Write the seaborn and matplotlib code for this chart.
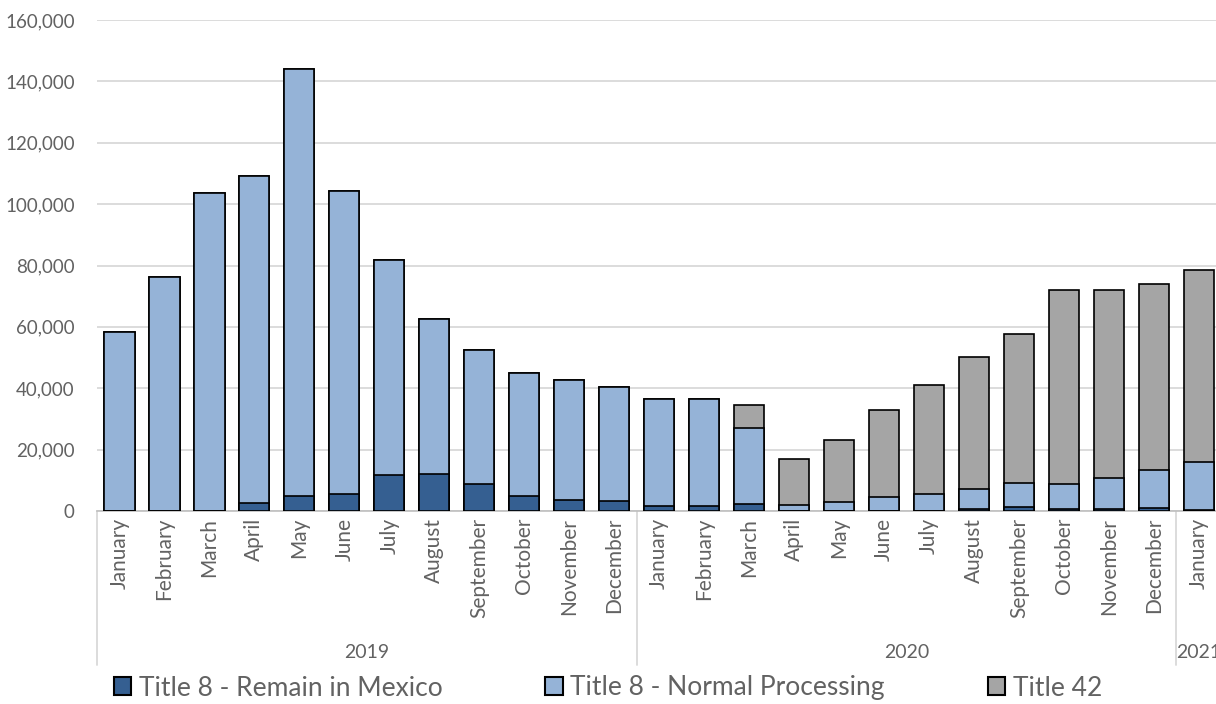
import matplotlib
matplotlib.use("Agg")
import matplotlib.pyplot as plt
import matplotlib.transforms as mtransforms
from matplotlib.patches import Patch
import seaborn as sns
import pandas as pd
import numpy as np

# ---- data ----
months = ["January", "February", "March", "April", "May", "June", "July",
          "August", "September", "October", "November", "December",
          "January", "February", "March", "April", "May", "June", "July",
          "August", "September", "October", "November", "December",
          "January"]
years = ["2019"] * 12 + ["2020"] * 12 + ["2021"]
remain_in_mexico = [0, 0, 100, 2500, 5000, 5600, 11600, 12200, 8800, 4900, 3600, 3200,
                    1700, 1700, 2300, 100, 100, 100, 100, 600, 1200, 500, 600, 1000,
                    300]
normal_processing = [58300, 76400, 103500, 106700, 139000, 98700, 70200, 50400, 43700, 40100, 39100, 37200,
                     34800, 34800, 24700, 2000, 2900, 4300, 5400, 6700, 7900, 8200, 10100, 12400,
                     15600]
title_42 = [0, 0, 0, 0, 0, 0, 0, 0, 0, 0, 0, 0,
            0, 0, 7500, 14900, 20100, 28500, 35500, 42900, 48600, 63300, 61300, 60600,
            62600]
y_ticks = [0, 20000, 40000, 60000, 80000, 100000, 120000, 140000, 160000]
series_labels = ["Title 8 - Remain in Mexico", "Title 8 - Normal Processing", "Title 42"]

c_dark = "#355F91"
c_light = "#95B3D7"
c_gray = "#A5A5A5"
txt = "#626262"

df = pd.DataFrame({
    "key": [f"{y}-{i}" for i, y in enumerate(years)],
    "month": months,
    "year": years,
    "remain": remain_in_mexico,
    "normal": normal_processing,
    "t42": title_42,
})
df["cum_light"] = df["remain"] + df["normal"]
df["total"] = df["cum_light"] + df["t42"]

sns.set_theme(style="white")
plt.rcParams["font.family"] = ["Lato", "DejaVu Sans"]

fig = plt.figure(figsize=(12.16, 7.04), dpi=100)
ax = fig.add_axes([97 / 1216, 1 - 511 / 704, 1 - 97 / 1216, (511 - 20) / 704])

common = dict(x="key", order=list(df["key"]), edgecolor="black", linewidth=1.2,
              width=0.67, saturation=1, ax=ax, zorder=3)
sns.barplot(data=df, y="total", color=c_gray, **common)
sns.barplot(data=df, y="cum_light", color=c_light, **common)
sns.barplot(data=df, y="remain", color=c_dark, **common)

n = len(df)
ax.set_xlim(-0.5, (1216 - 118) / 45.04)
ax.set_ylim(0, 160000)
ax.set_yticks(y_ticks)
ax.set_yticklabels([f"{v:,}" for v in y_ticks], fontsize=13.5, color=txt)
ax.set_xticks(range(n))
ax.set_xticklabels(months, rotation=90, fontsize=15, color=txt,
                   va="top", ha="center")
ax.tick_params(axis="both", length=0)
ax.tick_params(axis="x", pad=5)
ax.tick_params(axis="y", pad=16)
ax.set_xlabel("")
ax.set_ylabel("")
ax.yaxis.grid(True, color="#D9D9D9", linewidth=1.3, zorder=0)
ax.set_axisbelow(True)
for s in ["left", "right", "top"]:
    ax.spines[s].set_visible(False)
ax.spines["bottom"].set_color("#BFBFBF")
ax.spines["bottom"].set_linewidth(1.2)

# year group separators and labels
trans = mtransforms.blended_transform_factory(ax.transData, ax.transAxes)
y_low = (511 - 665) / 491
for xs in [-0.5, 11.5, 23.5]:
    ax.plot([xs, xs], [0, y_low], transform=trans, color="#D9D9D9", linewidth=1.3,
            clip_on=False)
year_names = ["2019", "2020", "2021"]
for yr in year_names:
    idx = [i for i, y in enumerate(years) if y == yr]
    xc = (idx[0] + idx[-1]) / 2
    ax.text(xc, (511 - 652) / 491, yr, transform=trans, ha="center", va="center",
            fontsize=14, color=txt)

handles = [Patch(facecolor=c, edgecolor="black", linewidth=1.5) for c in (c_dark, c_light, c_gray)]
fig.legend(handles, series_labels, loc="center", bbox_to_anchor=(0.5, 1 - 688 / 704),
           ncol=3, frameon=False, handlelength=0.65, handleheight=0.65,
           handletextpad=0.3, columnspacing=3.9, labelcolor=txt,
           prop={"family": ["Lato", "DejaVu Sans"], "size": 19})

fig.savefig("out.png", dpi=100)
